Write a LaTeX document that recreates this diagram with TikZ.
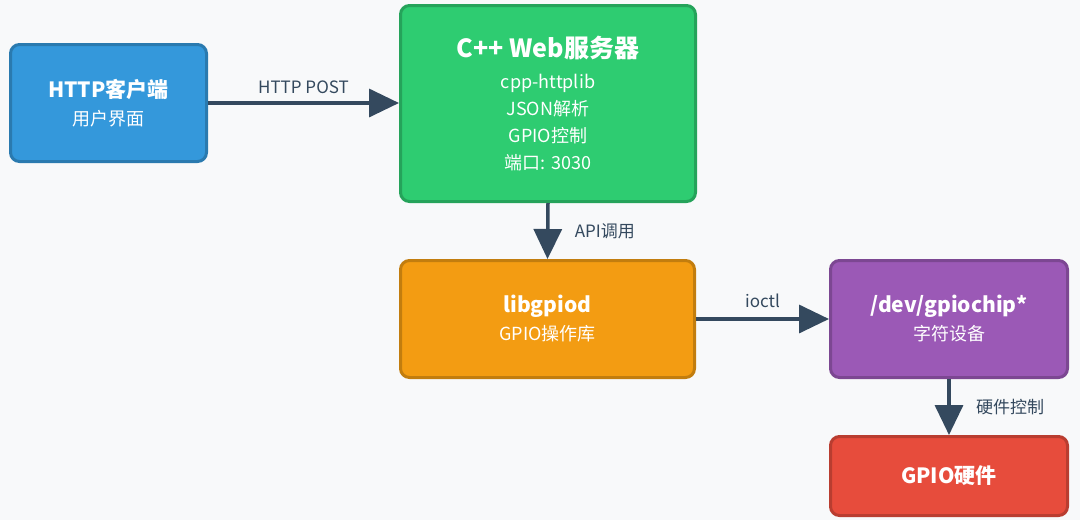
\documentclass[tikz,border=0pt]{standalone}
\usepackage{fontspec}
\setmainfont{Noto Sans CJK SC}
\usetikzlibrary{arrows.meta}
\definecolor{bg}{HTML}{F8F9FA}
\definecolor{ar}{HTML}{34495E}
\begin{document}
\begin{tikzpicture}[x=1pt,y=-1pt,
  box/.style={draw=#1!80!black,line width=3pt,rounded corners=9pt,fill=#1,text=white,align=center,inner sep=0pt,font=\fontsize{18}{27}\selectfont},
  arr/.style={draw=ar,line width=3.5pt,-{Triangle[length=30pt,width=28pt]}},
  lab/.style={text=ar,font=\fontsize{17}{20}\selectfont}]
\fill[bg] (0,0) rectangle (1080,520);
\definecolor{cb}{HTML}{3498DB}\definecolor{cg}{HTML}{2ECC71}\definecolor{co}{HTML}{F39C12}
\definecolor{cp}{HTML}{9B59B6}\definecolor{cr}{HTML}{E74C3C}
\node[box=cb,minimum width=196pt,minimum height=117pt] (c) at (108.5,103)
  {{\fontsize{21}{25}\selectfont\bfseries HTTP客户端}\\[1pt]用户界面};
\node[box=cg,minimum width=295pt,minimum height=196pt] (s) at (548,103.5)
  {{\fontsize{25}{29}\selectfont\bfseries C++ Web服务器}\\[4pt]cpp-httplib\\JSON解析\\GPIO控制\\端口: 3030};
\node[box=co,minimum width=294pt,minimum height=117pt] (l) at (547.5,319)
  {{\fontsize{21}{25}\selectfont\bfseries libgpiod}\\[1pt]GPIO操作库};
\node[box=cp,minimum width=237pt,minimum height=117pt] (d) at (949,319)
  {{\fontsize{21}{25}\selectfont\bfseries /dev/gpiochip*}\\[1pt]字符设备};
\node[box=cr,minimum width=237pt,minimum height=79pt] (h) at (949,476)
  {{\fontsize{21}{25}\selectfont\bfseries GPIO硬件}};
\draw[arr] (c.east|-0,103) -- (s.west|-0,103) node[midway,lab,above=4pt] {HTTP POST};
\draw[arr] (s.south) -- (l.north) node[midway,lab,right=22pt] {API调用};
\draw[arr] (l.east) -- (d.west) node[midway,lab,above=6pt] {ioctl};
\draw[arr] (d.south) -- (h.north) node[midway,lab,right=22pt] {硬件控制};
\end{tikzpicture}
\end{document}
